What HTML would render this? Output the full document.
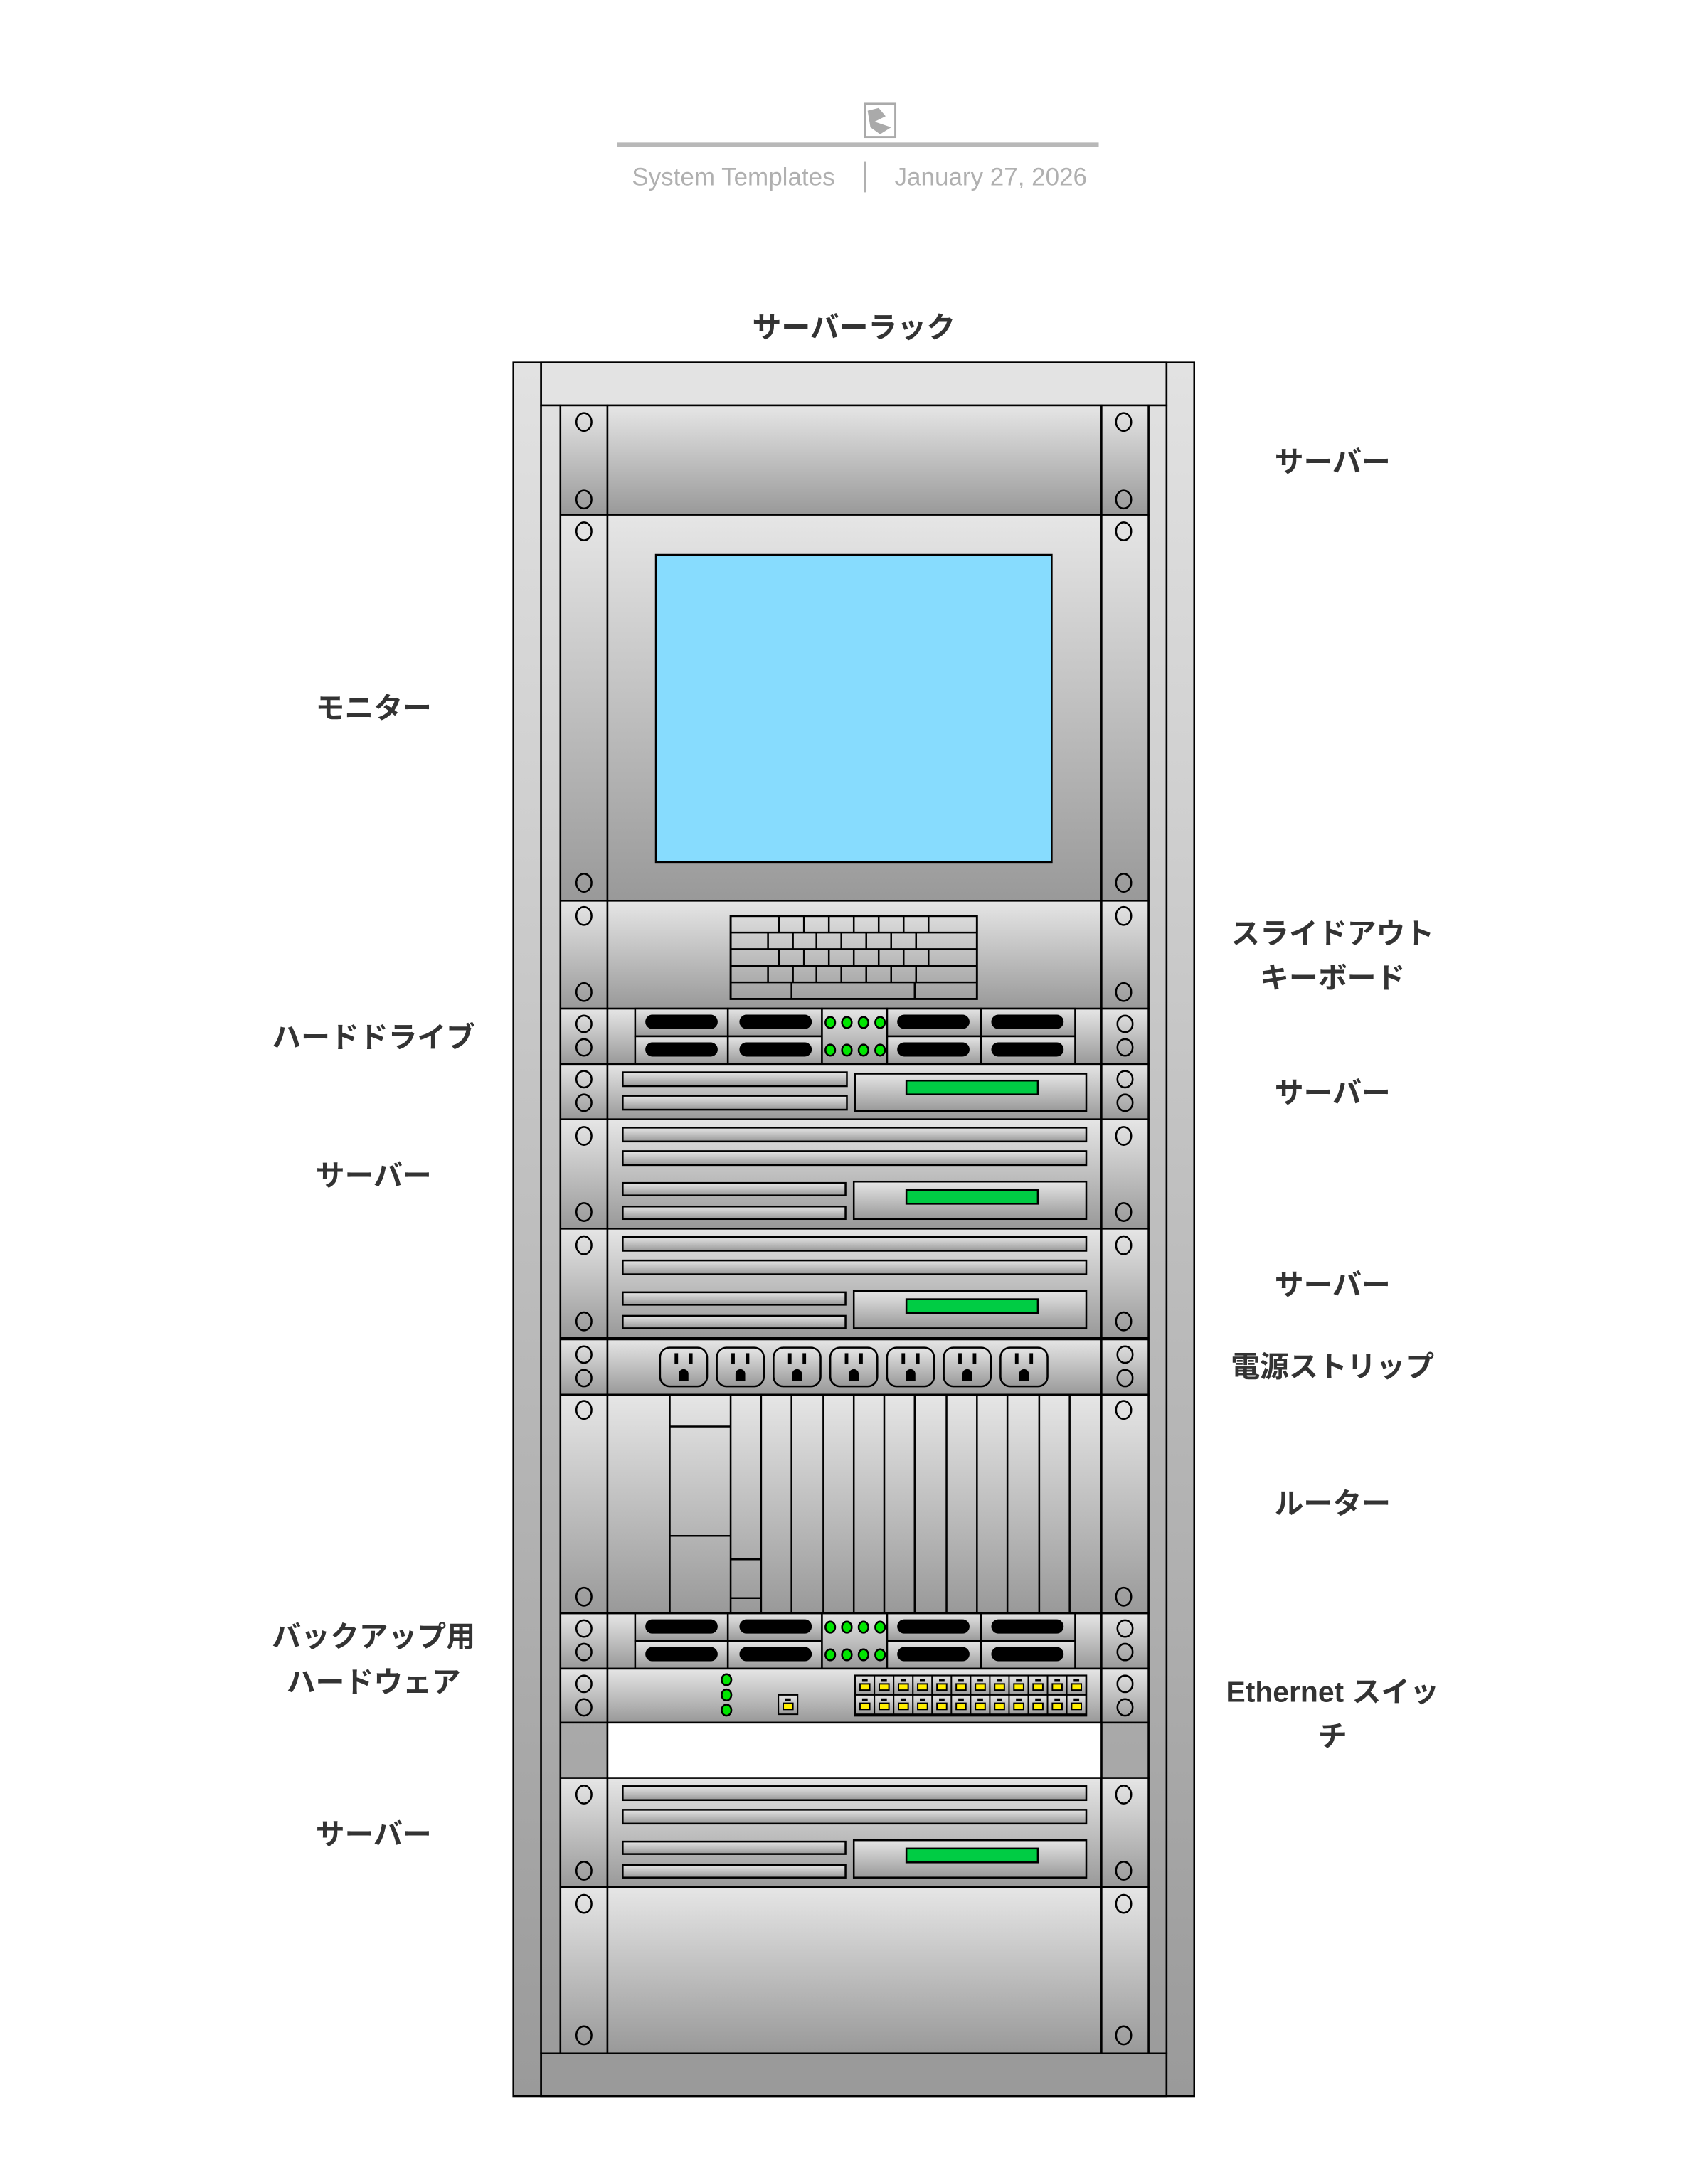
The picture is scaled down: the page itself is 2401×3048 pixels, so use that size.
<!DOCTYPE html>
<html><head><meta charset="utf-8"><style>
html,body{margin:0;padding:0;background:#fff;}
svg{display:block;}
.t{font-family:"Liberation Sans","Noto Sans CJK JP",sans-serif;font-weight:bold;font-size:21px;fill:#333;text-anchor:middle;}
</style></head><body>
<svg width="2401" height="3048" viewBox="0 0 1234.3 1566.9" preserveAspectRatio="none" xmlns="http://www.w3.org/2000/svg">
<defs>
<linearGradient id="g" x1="0" y1="0" x2="0" y2="1"><stop offset="0" stop-color="#e6e6e6"/><stop offset="1" stop-color="#999"/></linearGradient>
<linearGradient id="rail" gradientUnits="userSpaceOnUse" x1="0" y1="262" x2="0" y2="1515"><stop offset="0" stop-color="#e2e2e2"/><stop offset="1" stop-color="#9a9a9a"/></linearGradient>
<g id="srv2" stroke="#000" stroke-width="1.3" fill="url(#g)">
<rect x="405" y="0" width="34" height="79"/><rect x="439" y="0" width="357" height="79"/><rect x="796" y="0" width="34" height="79"/>
<rect x="450" y="6" width="335" height="10"/><rect x="450" y="23" width="335" height="10"/>
<rect x="450" y="46" width="161" height="9"/><rect x="450" y="63" width="161" height="9"/>
<rect x="617" y="45" width="168" height="27"/>
<rect x="655" y="51" width="95" height="10" fill="#00cc44"/>
<g fill="none"><ellipse cx="422" cy="12" rx="5.5" ry="6.5"/><ellipse cx="422" cy="67" rx="5.5" ry="6.5"/><ellipse cx="812" cy="12" rx="5.5" ry="6.5"/><ellipse cx="812" cy="67" rx="5.5" ry="6.5"/></g>
</g>
<g id="hdd" stroke="#000" stroke-width="1.3" fill="url(#g)">
<rect x="405" y="0" width="34" height="40"/><rect x="439" y="0" width="357" height="40"/><rect x="796" y="0" width="34" height="40"/>
<rect x="459" y="0" width="67" height="20"/><rect x="526" y="0" width="68" height="20"/><rect x="641" y="0" width="68" height="20"/><rect x="709" y="0" width="68" height="20"/>
<rect x="459" y="20" width="67" height="20"/><rect x="526" y="20" width="68" height="20"/><rect x="641" y="20" width="68" height="20"/><rect x="709" y="20" width="68" height="20"/>
<rect x="594" y="0" width="47" height="40"/>
<g fill="#000"><rect x="467" y="5" width="51" height="9" rx="4.5"/><rect x="535" y="5" width="51" height="9" rx="4.5"/><rect x="649" y="5" width="51" height="9" rx="4.5"/><rect x="717" y="5" width="51" height="9" rx="4.5"/>
<rect x="467" y="25" width="51" height="9" rx="4.5"/><rect x="535" y="25" width="51" height="9" rx="4.5"/><rect x="649" y="25" width="51" height="9" rx="4.5"/><rect x="717" y="25" width="51" height="9" rx="4.5"/></g>
<g fill="#00e600"><ellipse cx="600" cy="10" rx="3.5" ry="4"/><ellipse cx="612" cy="10" rx="3.5" ry="4"/><ellipse cx="624" cy="10" rx="3.5" ry="4"/><ellipse cx="636" cy="10" rx="3.5" ry="4"/>
<ellipse cx="600" cy="30" rx="3.5" ry="4"/><ellipse cx="612" cy="30" rx="3.5" ry="4"/><ellipse cx="624" cy="30" rx="3.5" ry="4"/><ellipse cx="636" cy="30" rx="3.5" ry="4"/></g>
<g fill="none"><ellipse cx="422" cy="11" rx="5.5" ry="6"/><ellipse cx="422" cy="28" rx="5.5" ry="6"/><ellipse cx="813" cy="11" rx="5.5" ry="6"/><ellipse cx="813" cy="28" rx="5.5" ry="6"/></g>
</g>
<g id="holes1" stroke="#000" stroke-width="1.3" fill="none"><ellipse cx="422" cy="11" rx="5.5" ry="6"/><ellipse cx="422" cy="28" rx="5.5" ry="6"/><ellipse cx="813" cy="11" rx="5.5" ry="6"/><ellipse cx="813" cy="28" rx="5.5" ry="6"/></g>
<g id="outlet" stroke="#000" stroke-width="1.3">
<rect x="-17" y="0" width="34" height="28" rx="7" fill="url(#g)"/>
<rect x="-6.5" y="4" width="2.5" height="8" fill="#000" stroke="none"/><rect x="4" y="4" width="2.5" height="8" fill="#000" stroke="none"/>
<path d="M-3.5 24 V19 a3.5 3.5 0 0 1 7 0 V24 Z" fill="#000" stroke="none"/>
</g>
<g id="port" stroke="#000" stroke-width="1"><rect x="0" y="0" width="13.9" height="14" fill="url(#g)"/><rect x="5" y="2.5" width="4" height="2" fill="#000" stroke="none"/><rect x="3.5" y="6" width="7" height="4.5" fill="#ffee00"/></g>
</defs>

<g>
<rect x="625" y="75" width="22" height="24" fill="#fff" stroke="#aaa" stroke-width="1.5"/>
<path d="M627 80 L635 78 L640 84 L632 88 L644 92 L636 97 L629 92 Z" fill="#aaa"/>
<rect x="446" y="103" width="348" height="3" fill="#b8b8b8"/>
<text x="530" y="134" font-family="Liberation Sans, sans-serif" font-size="18" fill="#b0b0b0" text-anchor="middle">System Templates</text>
<rect x="624.5" y="117" width="1.5" height="22" fill="#b0b0b0"/>
<text x="716" y="134" font-family="Liberation Sans, sans-serif" font-size="18" fill="#b0b0b0" text-anchor="middle">January 27, 2026</text>
</g>

<text class="t" x="617" y="244">サーバーラック</text>

<g stroke="#000" stroke-width="1.3">
<rect x="371" y="262" width="492" height="1253" fill="url(#rail)"/>
<rect x="391" y="262" width="452" height="31" fill="#e3e3e3"/>
<rect x="391" y="1484" width="452" height="31" fill="#9a9a9a"/>
<line x1="391" y1="262" x2="391" y2="1515"/><line x1="843" y1="262" x2="843" y2="1515"/>
<rect x="391" y="293" width="14" height="1191" fill="url(#rail)"/>
<rect x="830" y="293" width="13" height="1191" fill="url(#rail)"/>
<rect x="405" y="1245" width="34" height="40" fill="url(#rail)"/>
<rect x="796" y="1245" width="34" height="40" fill="url(#rail)"/>
<rect x="439" y="1245" width="357" height="40" fill="#fff"/>
</g>

<g stroke="#000" stroke-width="1.3" fill="url(#g)">
<rect x="405" y="293" width="34" height="79"/><rect x="439" y="293" width="357" height="79"/><rect x="796" y="293" width="34" height="79"/>
<g fill="none"><ellipse cx="422" cy="305" rx="5.5" ry="6.5"/><ellipse cx="422" cy="361" rx="5.5" ry="6.5"/><ellipse cx="812" cy="305" rx="5.5" ry="6.5"/><ellipse cx="812" cy="361" rx="5.5" ry="6.5"/></g>
</g>
<g stroke="#000" stroke-width="1.3" fill="url(#g)">
<rect x="405" y="372" width="34" height="279"/><rect x="439" y="372" width="357" height="279"/><rect x="796" y="372" width="34" height="279"/>
<rect x="474" y="401" width="286" height="222" fill="#87dcfe"/>
<g fill="none"><ellipse cx="422" cy="384" rx="5.5" ry="6.5"/><ellipse cx="422" cy="638" rx="5.5" ry="6.5"/><ellipse cx="812" cy="384" rx="5.5" ry="6.5"/><ellipse cx="812" cy="638" rx="5.5" ry="6.5"/></g>
</g>
<g stroke="#000" stroke-width="1.3" fill="url(#g)">
<rect x="405" y="651" width="34" height="78"/><rect x="439" y="651" width="357" height="78"/><rect x="796" y="651" width="34" height="78"/>
<g fill="none"><ellipse cx="422" cy="662" rx="5.5" ry="6.5"/><ellipse cx="422" cy="717" rx="5.5" ry="6.5"/><ellipse cx="812" cy="662" rx="5.5" ry="6.5"/><ellipse cx="812" cy="717" rx="5.5" ry="6.5"/></g>
<rect x="528" y="662" width="178" height="60" fill="none" stroke-width="1.5"/>
<path fill="none" d="M528 674H706M528 686H706M528 698H706M528 710H706
M563 662V674M581 662V674M599 662V674M617 662V674M635 662V674M653 662V674M671 662V674
M555 674V686M573 674V686M590 674V686M608 674V686M626 674V686M644 674V686M662 674V686
M563 686V698M581 686V698M599 686V698M617 686V698M635 686V698M653 686V698M671 686V698
M555 698V710M573 698V710M590 698V710M608 698V710M626 698V710M644 698V710M662 698V710
M572 710V722M661 710V722"/>
</g>
<use href="#hdd" y="729"/>
<g stroke="#000" stroke-width="1.3" fill="url(#g)">
<rect x="405" y="769" width="34" height="40"/><rect x="439" y="769" width="357" height="40"/><rect x="796" y="769" width="34" height="40"/>
<rect x="450" y="775" width="162" height="10"/><rect x="450" y="792" width="162" height="10"/>
<rect x="618" y="776" width="167" height="27"/>
<rect x="655" y="781" width="95" height="10" fill="#00cc44"/>
</g>
<use href="#holes1" y="769"/>
<use href="#srv2" y="809"/>
<use href="#srv2" y="888"/>
<g stroke="#000" stroke-width="1.3" fill="url(#g)">
<rect x="405" y="968" width="34" height="40"/><rect x="439" y="968" width="357" height="40"/><rect x="796" y="968" width="34" height="40"/>
</g>
<use href="#holes1" y="968"/>
<use href="#outlet" x="494" y="974"/><use href="#outlet" x="535" y="974"/><use href="#outlet" x="576" y="974"/><use href="#outlet" x="617" y="974"/><use href="#outlet" x="658" y="974"/><use href="#outlet" x="699" y="974"/><use href="#outlet" x="740" y="974"/>
<g stroke="#000" stroke-width="1.3" fill="url(#g)">
<rect x="405" y="1008" width="34" height="158"/><rect x="439" y="1008" width="357" height="158"/><rect x="796" y="1008" width="34" height="158"/>
<path fill="none" d="M484 1008V1166M528 1008V1166M550 1008V1166M572 1008V1166M595 1008V1166M617 1008V1166M639 1008V1166M661 1008V1166M684 1008V1166M706 1008V1166M728 1008V1166M751 1008V1166M773 1008V1166
M484 1031H528M484 1110H528M528 1127H550M528 1155H550"/>
<g fill="none"><ellipse cx="422" cy="1019" rx="5.5" ry="6.5"/><ellipse cx="422" cy="1154" rx="5.5" ry="6.5"/><ellipse cx="812" cy="1019" rx="5.5" ry="6.5"/><ellipse cx="812" cy="1154" rx="5.5" ry="6.5"/></g>
</g>
<use href="#hdd" y="1166"/>
<g stroke="#000" stroke-width="1.3" fill="url(#g)">
<rect x="405" y="1206" width="34" height="39"/><rect x="439" y="1206" width="357" height="39"/><rect x="796" y="1206" width="34" height="39"/>
<g fill="#00e600"><ellipse cx="525" cy="1214" rx="3.5" ry="4"/><ellipse cx="525" cy="1225" rx="3.5" ry="4"/><ellipse cx="525" cy="1236" rx="3.5" ry="4"/></g>
<rect x="618" y="1211" width="167" height="29" fill="#333"/>
</g>
<use href="#holes1" y="1206"/>
<use href="#port" x="562.5" y="1225"/>
<g>
<use href="#port" x="618" y="1211"/><use href="#port" x="631.9" y="1211"/><use href="#port" x="645.8" y="1211"/><use href="#port" x="659.7" y="1211"/><use href="#port" x="673.6" y="1211"/><use href="#port" x="687.5" y="1211"/><use href="#port" x="701.4" y="1211"/><use href="#port" x="715.3" y="1211"/><use href="#port" x="729.2" y="1211"/><use href="#port" x="743.1" y="1211"/><use href="#port" x="757" y="1211"/><use href="#port" x="770.9" y="1211"/>
<use href="#port" x="618" y="1225"/><use href="#port" x="631.9" y="1225"/><use href="#port" x="645.8" y="1225"/><use href="#port" x="659.7" y="1225"/><use href="#port" x="673.6" y="1225"/><use href="#port" x="687.5" y="1225"/><use href="#port" x="701.4" y="1225"/><use href="#port" x="715.3" y="1225"/><use href="#port" x="729.2" y="1225"/><use href="#port" x="743.1" y="1225"/><use href="#port" x="757" y="1225"/><use href="#port" x="770.9" y="1225"/>
</g>
<use href="#srv2" y="1285"/>
<g stroke="#000" stroke-width="1.3" fill="url(#g)">
<rect x="405" y="1364" width="34" height="120"/><rect x="439" y="1364" width="357" height="120"/><rect x="796" y="1364" width="34" height="120"/>
<g fill="none"><ellipse cx="422" cy="1376" rx="5.5" ry="6.5"/><ellipse cx="422" cy="1471" rx="5.5" ry="6.5"/><ellipse cx="812" cy="1376" rx="5.5" ry="6.5"/><ellipse cx="812" cy="1471" rx="5.5" ry="6.5"/></g>
</g>

<text class="t" x="963" y="341">サーバー</text>
<text class="t" x="963" y="682">スライドアウト</text>
<text class="t" x="963" y="714">キーボード</text>
<text class="t" x="963" y="797">サーバー</text>
<text class="t" x="963" y="936">サーバー</text>
<text class="t" x="963" y="995">電源ストリップ</text>
<text class="t" x="963" y="1094">ルーター</text>
<text class="t" x="963" y="1230">Ethernet スイッ</text>
<text class="t" x="963" y="1262">チ</text>
<text class="t" x="270" y="519">モニター</text>
<text class="t" x="270" y="757">ハードドライブ</text>
<text class="t" x="270" y="857">サーバー</text>
<text class="t" x="270" y="1190">バックアップ用</text>
<text class="t" x="270" y="1223">ハードウェア</text>
<text class="t" x="270" y="1333">サーバー</text>
</svg>
</body></html>
